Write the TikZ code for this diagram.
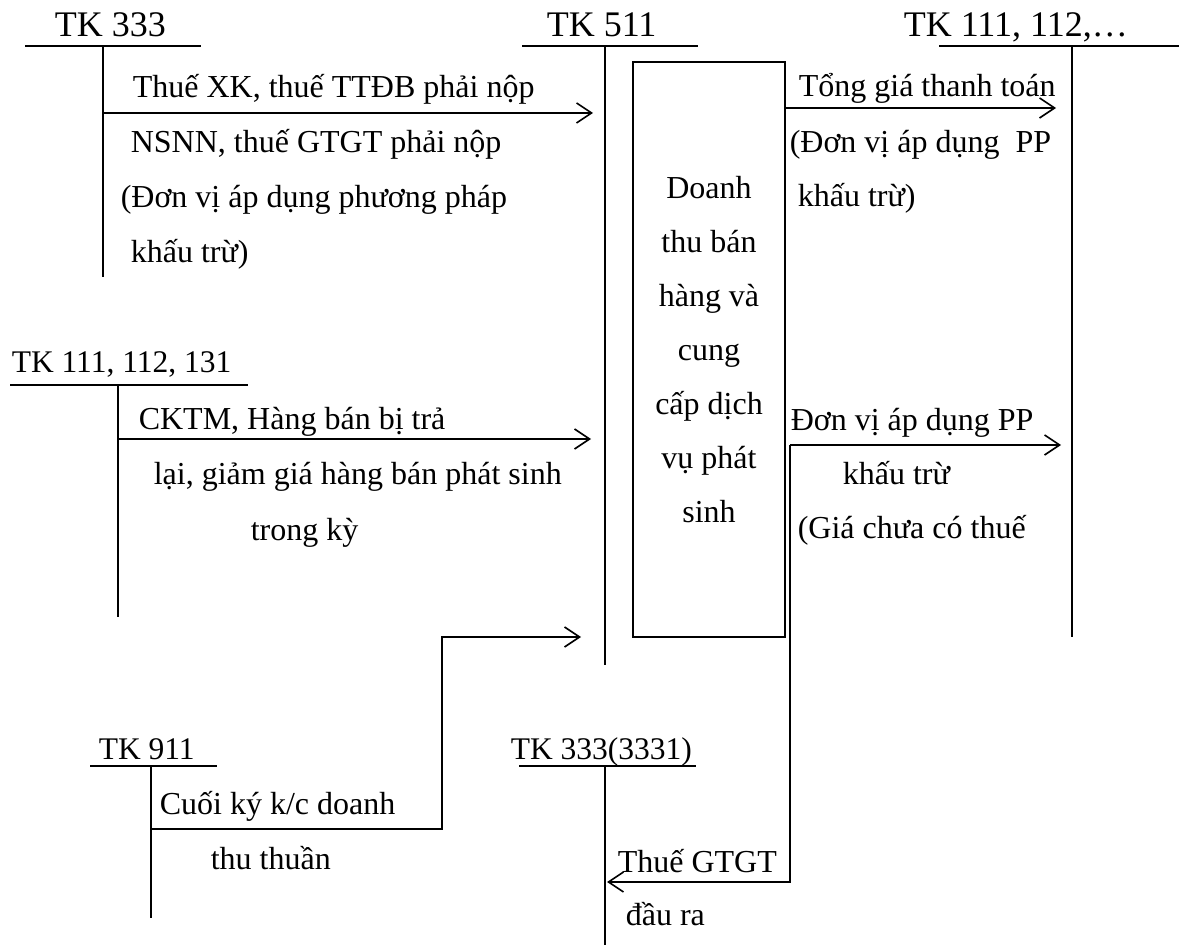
\documentclass[tikz,border=0pt]{standalone}
\usepackage{fontspec}
\setmainfont{Liberation Serif}
\usetikzlibrary{arrows.meta}
\tikzset{
  acct/.style={anchor=base west, inner sep=0pt, font=\fontsize{36}{40}\selectfont},
  acctsm/.style={anchor=base west, inner sep=0pt, font=\fontsize{31.5}{36}\selectfont},
  note/.style={anchor=base west, inner sep=0pt, font=\fontsize{32}{36}\selectfont},
  flow/.style={-{Straight Barb[length=15pt,width=20pt]}},
}

\begin{document}
\begin{tikzpicture}[x=1pt, y=-1pt, line width=1.6pt]
    \useasboundingbox (0,0) rectangle (1179,949);
    % T-accounts
    \node[acct] (t333) at (54,37) {TK 333};
    \draw (25,46)--(201,46);
    \draw (103,46)--(103,277);
    \node[acct] (t511) at (546,37) {TK 511};
    \draw (522,46)--(698,46);
    \draw (605,46)--(605,665);
    \node[acct] (t111) at (903,37) {TK 111, 112,…};
    \draw (939,46)--(1179,46);
    \draw (1072,46)--(1072,637);
    \node[acctsm] (t131) at (11,373) {TK 111, 112, 131};
    \draw (10,385)--(248,385);
    \draw (118,385)--(118,617);
    \node[acctsm] (t911) at (98,759) {TK 911};
    \draw (90,766)--(217,766);
    \draw (151,766)--(151,918);
    \node[acctsm] (t3331) at (510,759) {TK 333(3331)};
    \draw (519,766)--(696,766);
    \draw (605,766)--(605,945);
    % revenue box
    \node[draw, minimum width=152, minimum height=575, inner sep=0pt, align=center,
      font=\fontsize{32}{54}\selectfont] (rev) at (709,349.5)
      {Doanh\\thu bán\\hàng và\\cung\\cấp dịch\\vụ phát\\sinh};
    % flows
    \coordinate (s333) at (103,113);
    \coordinate (e511a) at (593,113);
    \draw[flow] (s333)--(e511a);
    \node[note] (n1) at (132,98) {Thuế XK, thuế TTĐB phải nộp};
    \node[note] (n2) at (130,153) {NSNN, thuế GTGT phải nộp};
    \node[note] (n3) at (120,208) {(Đơn vị áp dụng phương pháp};
    \node[note] (n4) at (130,263) {khấu trừ)};

    \coordinate (s131) at (118,439);
    \coordinate (e511b) at (591,439);
    \draw[flow] (s131)--(e511b);
    \node[note] (n5) at (138,430) {CKTM, Hàng bán bị trả};
    \node[note] (n6) at (153,485) {lại, giảm giá hàng bán phát sinh};
    \node[note] (n7) at (250,540) {trong kỳ};

    \coordinate (s911) at (151,829);
    \coordinate (k911) at (442,829);
    \coordinate (e511c) at (581,637);
    \draw[flow] (s911)--(k911)|-(e511c);
    \node[note] (n8) at (159,814) {Cuối ký k/c doanh};
    \node[note] (n9) at (210,869) {thu thuần};

    \coordinate (e111a) at (1056,108);
    \draw[flow] (rev.east |- e111a)--(e111a);
    \node[note] (n10) at (798,97) {Tổng giá thanh toán};
    \node[note] (n11) at (789,153) {(Đơn vị áp dụng~ PP};
    \node[note] (n12) at (797,207) {khấu trừ)};

    \coordinate (kvat) at (790,445);
    \coordinate (e111b) at (1061,445);
    \coordinate (e3331) at (607,882);
    \draw[flow] (kvat)--(e111b);
    \draw[flow] (kvat)--(kvat |- e3331)--(e3331);
    \node[note] (n13) at (790,431) {Đơn vị áp dụng PP};
    \node[note] (n14) at (842,485) {khấu trừ};
    \node[note] (n15) at (797,539) {(Giá chưa có thuế};
    \node[note] (n16) at (617,872) {Thuế GTGT};
    \node[note] (n17) at (625,925) {đầu ra};
\end{tikzpicture}
\end{document}
